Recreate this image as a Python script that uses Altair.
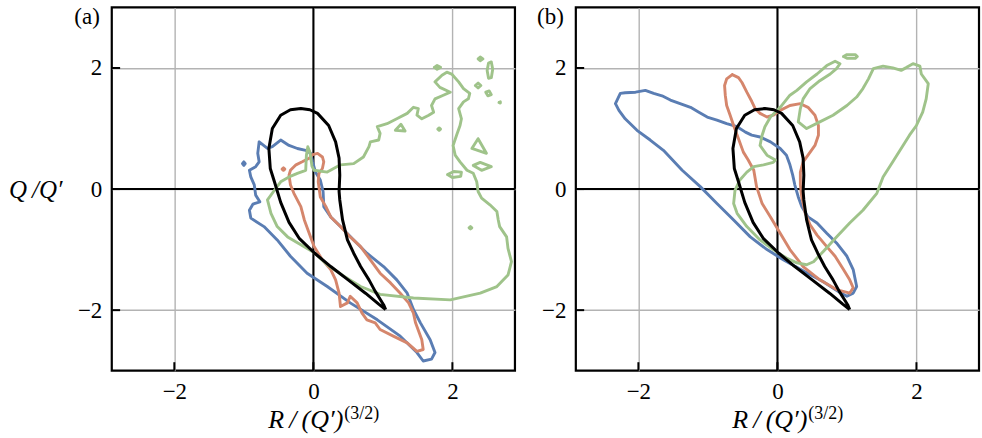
import altair as alt
import pandas as pd

# ---- axes -------------------------------------------------------------
X_DOMAIN = [-2.9, 2.9]
Y_DOMAIN = [-3.0, 3.0]
TICK_VALUES = [-2, 0, 2]

FONT = "Liberation Serif"
BLUE = "#5a7db3"
RED = "#d5866c"
GREEN = "#9fc38a"
BLACK = "#000000"

# ---- reference teardrop (same in both panels) -------------------------
REF = [(1.04, -1.99), (0.94, -1.90), (0.75, -1.72), (0.50, -1.50), (0.25, -1.28),
       (0.02, -1.06), (-0.20, -0.82), (-0.35, -0.55), (-0.47, -0.22), (-0.56, 0.12),
       (-0.62, 0.34), (-0.64, 0.67), (-0.59, 1.00), (-0.47, 1.22), (-0.33, 1.31),
       (-0.18, 1.33), (-0.05, 1.31), (0.06, 1.25), (0.22, 1.05), (0.32, 0.78),
       (0.37, 0.51), (0.38, 0.23), (0.37, -0.04), (0.38, -0.18), (0.42, -0.51),
       (0.49, -0.84), (0.58, -1.06), (0.68, -1.28), (0.80, -1.50), (0.89, -1.69),
       (1.01, -1.91)]

# ---- panel (a) --------------------------------------------------------
A_BLUE = [(-0.78, 0.78), (-0.66, 0.67), (-0.59, 0.70), (-0.47, 0.81), (-0.35, 0.72),
          (-0.23, 0.67), (-0.11, 0.64), (-0.04, 0.59), (-0.01, 0.45), (0.03, 0.28),
          (0.10, 0.15), (0.14, -0.04), (0.15, -0.29), (0.25, -0.46), (0.39, -0.62),
          (0.58, -0.84), (0.77, -1.06), (1.01, -1.28), (1.20, -1.50), (1.35, -1.72),
          (1.44, -1.99), (1.54, -2.21), (1.68, -2.49), (1.75, -2.70), (1.70, -2.81),
          (1.58, -2.84), (1.49, -2.70), (1.25, -2.43), (0.92, -2.16), (0.53, -1.88),
          (0.20, -1.61), (-0.09, -1.39), (-0.33, -1.11), (-0.52, -0.84), (-0.71, -0.62),
          (-0.90, -0.48), (-0.92, -0.35), (-0.87, -0.25), (-0.77, -0.21), (-0.83, -0.10),
          (-0.85, 0.07), (-0.90, 0.20), (-0.92, 0.31), (-0.83, 0.37), (-0.78, 0.45),
          (-0.80, 0.59)]
A_BLUE_DOT = [(-1.02, 0.42), (-1.00, 0.45), (-0.98, 0.42), (-1.00, 0.39)]

A_RED = [(-0.35, 0.23), (-0.33, 0.31), (-0.25, 0.40), (-0.16, 0.45), (-0.06, 0.51),
         (-0.01, 0.57), (0.06, 0.59), (0.13, 0.53), (0.15, 0.45), (0.13, 0.34),
         (0.08, 0.26), (0.07, 0.12), (0.10, -0.13), (0.18, -0.29), (0.25, -0.46),
         (0.39, -0.62), (0.53, -0.79), (0.68, -0.95), (0.82, -1.17), (0.96, -1.39),
         (1.11, -1.55), (1.25, -1.72), (1.37, -1.88), (1.44, -2.05), (1.47, -2.21),
         (1.56, -2.49), (1.58, -2.65), (1.49, -2.68), (1.35, -2.54), (1.15, -2.43),
         (0.96, -2.32), (0.89, -2.21), (0.77, -2.16), (0.70, -2.05), (0.63, -1.88),
         (0.53, -1.77), (0.49, -1.88), (0.39, -1.94), (0.37, -1.72), (0.32, -1.50),
         (0.25, -1.33), (0.13, -1.17), (0.01, -0.95), (-0.06, -0.73), (-0.13, -0.51),
         (-0.18, -0.29), (-0.28, -0.07), (-0.33, 0.07)]
A_RED_DOT = [(-0.45, 0.33), (-0.43, 0.35), (-0.41, 0.33), (-0.43, 0.31)]

A_GREEN = [(-0.66, -0.18), (-0.56, -0.02), (-0.47, 0.12), (-0.35, 0.20), (-0.23, 0.26),
           (-0.11, 0.31), (-0.10, 0.56), (-0.08, 0.70), (-0.05, 0.61), (-0.02, 0.38),
           (0.01, 0.31), (0.20, 0.28), (0.39, 0.40), (0.58, 0.42), (0.72, 0.53),
           (0.80, 0.70), (0.82, 0.78), (0.94, 0.81), (0.96, 0.92), (0.92, 1.03),
           (1.06, 1.08), (1.20, 1.16), (1.35, 1.25), (1.44, 1.35), (1.51, 1.33),
           (1.49, 1.22), (1.56, 1.16), (1.66, 1.22), (1.73, 1.27), (1.70, 1.38),
           (1.75, 1.49), (1.87, 1.55), (1.97, 1.60), (1.82, 1.68), (1.75, 1.77),
           (1.85, 1.88), (1.92, 1.93), (1.99, 1.90), (2.09, 1.77), (2.16, 1.66),
           (2.25, 1.58), (2.23, 1.49), (2.16, 1.44), (2.09, 1.33), (2.13, 1.16),
           (2.11, 1.05), (2.06, 0.89), (2.01, 0.72), (2.04, 0.56), (2.11, 0.45),
           (2.21, 0.31), (2.30, 0.26), (2.35, 0.12), (2.37, -0.04), (2.42, -0.15),
           (2.54, -0.26), (2.64, -0.37), (2.66, -0.51), (2.68, -0.62), (2.78, -0.79),
           (2.80, -0.98), (2.85, -1.20), (2.80, -1.42), (2.64, -1.61), (2.40, -1.72),
           (1.97, -1.83), (1.44, -1.80), (0.96, -1.74), (0.68, -1.61), (0.44, -1.44),
           (0.20, -1.25), (0.01, -1.05), (-0.18, -0.92), (-0.37, -0.79), (-0.52, -0.62),
           (-0.61, -0.40)]
A_GREEN_ISLANDS = [
    [(1.74, 2.01), (1.78, 2.04), (1.83, 2.01), (1.78, 1.98)],
    [(2.37, 2.15), (2.40, 2.18), (2.44, 2.15), (2.40, 2.12)],
    [(2.50, 1.96), (2.52, 2.08), (2.56, 2.10), (2.58, 1.98), (2.56, 1.84), (2.52, 1.83)],
    [(2.33, 1.71), (2.37, 1.75), (2.41, 1.71), (2.37, 1.67)],
    [(2.48, 1.60), (2.53, 1.62), (2.56, 1.56), (2.51, 1.54)],
    [(2.67, 1.43), (2.69, 1.44), (2.69, 1.42)],
    [(1.18, 0.97), (1.26, 1.07), (1.32, 0.96)],
    [(1.79, 0.99), (1.81, 1.01), (1.83, 0.99), (1.81, 0.97)],
    [(2.37, 0.83), (2.49, 0.59), (2.28, 0.67)],
    [(2.30, 0.39), (2.40, 0.44), (2.56, 0.37), (2.42, 0.31)],
    [(1.93, 0.24), (2.02, 0.29), (2.13, 0.28), (2.12, 0.21), (2.00, 0.19)],
    [(2.24, -0.64), (2.26, -0.62), (2.28, -0.64), (2.26, -0.66)],
]

# ---- panel (b) --------------------------------------------------------
B_BLUE = [(-2.33, 1.41), (-2.26, 1.58), (-2.19, 1.59), (-2.04, 1.60), (-1.90, 1.63),
          (-1.78, 1.58), (-1.66, 1.54), (-1.54, 1.47), (-1.40, 1.41), (-1.25, 1.35),
          (-1.13, 1.27), (-1.01, 1.19), (-0.87, 1.14), (-0.73, 1.08), (-0.58, 1.03),
          (-0.46, 0.94), (-0.37, 0.89), (-0.25, 0.86), (-0.10, 0.78), (0.04, 0.67),
          (0.13, 0.56), (0.18, 0.40), (0.22, 0.23), (0.25, 0.07), (0.30, -0.13),
          (0.35, -0.29), (0.44, -0.46), (0.57, -0.56), (0.71, -0.73), (0.85, -0.89),
          (1.00, -1.11), (1.09, -1.33), (1.14, -1.61), (1.09, -1.72), (1.00, -1.77),
          (0.90, -1.71), (0.66, -1.53), (0.37, -1.35), (0.09, -1.17), (-0.15, -1.00),
          (-0.39, -0.79), (-0.63, -0.51), (-0.87, -0.24), (-1.11, 0.04), (-1.37, 0.31),
          (-1.64, 0.64), (-1.83, 0.81), (-2.02, 0.97), (-2.19, 1.16), (-2.28, 1.30)]

B_RED = [(-0.65, 1.89), (-0.56, 1.84), (-0.51, 1.76), (-0.44, 1.60), (-0.37, 1.45),
         (-0.32, 1.33), (-0.25, 1.25), (-0.15, 1.19), (-0.06, 1.22), (0.04, 1.30),
         (0.18, 1.38), (0.33, 1.41), (0.44, 1.35), (0.54, 1.22), (0.59, 1.05),
         (0.59, 0.89), (0.54, 0.72), (0.44, 0.56), (0.37, 0.45), (0.33, 0.28),
         (0.33, 0.07), (0.35, -0.13), (0.40, -0.40), (0.47, -0.59), (0.57, -0.76),
         (0.71, -0.95), (0.83, -1.11), (0.95, -1.33), (1.04, -1.50), (1.09, -1.63),
         (1.04, -1.72), (0.85, -1.66), (0.61, -1.50), (0.37, -1.28), (0.18, -1.00),
         (0.04, -0.73), (-0.10, -0.46), (-0.22, -0.24), (-0.30, 0.04), (-0.34, 0.31),
         (-0.42, 0.48), (-0.49, 0.61), (-0.56, 0.83), (-0.63, 1.05), (-0.68, 1.22),
         (-0.73, 1.38), (-0.75, 1.55), (-0.76, 1.71), (-0.73, 1.82)]

B_GREEN = [(0.42, -1.25), (0.28, -1.22), (0.13, -1.14), (-0.06, -1.00), (-0.25, -0.84),
           (-0.44, -0.62), (-0.58, -0.40), (-0.63, -0.24), (-0.61, -0.02), (-0.54, 0.15),
           (-0.44, 0.28), (-0.34, 0.37), (-0.20, 0.40), (-0.06, 0.44), (-0.03, 0.48),
           (-0.15, 0.56), (-0.25, 0.72), (-0.22, 0.89), (-0.18, 1.03), (-0.10, 1.19),
           (0.04, 1.35), (0.18, 1.55), (0.28, 1.63), (0.42, 1.77), (0.57, 1.90),
           (0.71, 2.04), (0.83, 2.11), (0.90, 2.07), (0.85, 1.99), (0.76, 1.90),
           (0.61, 1.79), (0.47, 1.66), (0.37, 1.49), (0.33, 1.33), (0.30, 1.11),
           (0.42, 1.00), (0.61, 1.11), (0.80, 1.22), (1.00, 1.38), (1.14, 1.52),
           (1.23, 1.66), (1.31, 1.82), (1.38, 1.99), (1.52, 2.03), (1.66, 2.00),
           (1.78, 1.96), (1.86, 2.01), (1.95, 2.07), (2.05, 2.03), (2.07, 1.90),
           (2.17, 1.74), (2.14, 1.49), (2.09, 1.27), (2.00, 1.05), (1.90, 0.89),
           (1.78, 0.67), (1.66, 0.45), (1.52, 0.20), (1.43, -0.07), (1.23, -0.35),
           (1.04, -0.56), (0.85, -0.79), (0.66, -1.03), (0.52, -1.20)]
B_GREEN_ISLANDS = [
    [(0.95, 2.19), (1.00, 2.22), (1.12, 2.22), (1.15, 2.19), (1.12, 2.16), (1.00, 2.16)],
]


def build_table(panel, loops):
    rows = []
    for k, (series, pts) in enumerate(loops):
        closed = list(pts) + [pts[0]]
        for i, (r, q) in enumerate(closed):
            rows.append({"panel": panel, "series": series, "loop": f"{panel}{k}",
                         "i": i, "R": r, "Q": q})
    return pd.DataFrame(rows)


loops_a = ([("blue", A_BLUE), ("blue", A_BLUE_DOT), ("red", A_RED), ("red", A_RED_DOT),
            ("green", A_GREEN)] + [("green", g) for g in A_GREEN_ISLANDS])
loops_b = ([("blue", B_BLUE), ("red", B_RED), ("green", B_GREEN)]
           + [("green", g) for g in B_GREEN_ISLANDS])

SERIES = ["blue", "red", "green"]
COLORS = [BLUE, RED, GREEN]

xscale = alt.Scale(domain=X_DOMAIN, nice=False, zero=False)
yscale = alt.Scale(domain=Y_DOMAIN, nice=False, zero=False)
minus_expr = "datum.value < 0 ? '\u2212' + abs(datum.value) : '' + datum.value"
THIN = "\u2009"


def panel(tag, loops):
    data = build_table(tag, loops)
    ref = build_table(tag + "r", [("ref", REF)])

    def axis(pad):
        return alt.Axis(values=TICK_VALUES, grid=True, gridColor="#b3b3b3", gridWidth=1.4,
                        ticks=False, domain=False, title=None, labelFont=FONT,
                        labelFontSize=23, labelPadding=pad, labelColor="black",
                        labelExpr=minus_expr)

    axes = alt.Chart(pd.DataFrame({"R": [0.0], "Q": [0.0]})).mark_point(opacity=0).encode(
        x=alt.X("R:Q", scale=xscale, axis=axis(10)),
        y=alt.Y("Q:Q", scale=yscale, axis=axis(10)),
    )
    zero_v = alt.Chart(pd.DataFrame({"R": [0.0]})).mark_rule(color="black", strokeWidth=2).encode(
        x=alt.X("R:Q", scale=xscale))
    zero_h = alt.Chart(pd.DataFrame({"Q": [0.0]})).mark_rule(color="black", strokeWidth=2).encode(
        y=alt.Y("Q:Q", scale=yscale))

    curves = alt.Chart(data).mark_line(strokeWidth=2.9, strokeJoin="round", strokeCap="round").encode(
        x=alt.X("R:Q", scale=xscale),
        y=alt.Y("Q:Q", scale=yscale),
        color=alt.Color("series:N", scale=alt.Scale(domain=SERIES, range=COLORS), legend=None),
        detail="loop:N",
        order="i:Q",
    )
    ref_line = alt.Chart(ref).mark_line(strokeWidth=3, color=BLACK, strokeJoin="round").encode(
        x=alt.X("R:Q", scale=xscale),
        y=alt.Y("Q:Q", scale=yscale),
        order="i:Q",
    )

    xt = pd.DataFrame({"R": TICK_VALUES, "Q": [Y_DOMAIN[0]] * 3,
                       "Q2": [Y_DOMAIN[0] + 0.14] * 3})
    yt = pd.DataFrame({"Q": TICK_VALUES, "R": [X_DOMAIN[0]] * 3,
                       "R2": [X_DOMAIN[0] + 0.12] * 3})
    xticks = alt.Chart(xt).mark_rule(color="black", strokeWidth=2).encode(
        x=alt.X("R:Q", scale=xscale), y=alt.Y("Q:Q", scale=yscale), y2="Q2:Q")
    yticks = alt.Chart(yt).mark_rule(color="black", strokeWidth=2).encode(
        y=alt.Y("Q:Q", scale=yscale), x=alt.X("R:Q", scale=xscale), x2="R2:Q")

    label = alt.Chart(pd.DataFrame({"t": [f"({tag})"]})).mark_text(
        font=FONT, fontSize=23, align="right", baseline="top", color="black"
    ).encode(text="t:N", x=alt.value(-12), y=alt.value(-1))

    xtitle = alt.Chart(pd.DataFrame({"t": [f"R{THIN}/{THIN}(Q\u2032)"]})).mark_text(
        font=FONT, fontSize=26, fontStyle="italic", align="right", baseline="alphabetic",
        color="black"
    ).encode(text="t:N", x=alt.value(232), y=alt.value(421))
    xsup = alt.Chart(pd.DataFrame({"t": ["(3/2)"]})).mark_text(
        font=FONT, fontSize=18, align="left", baseline="alphabetic", color="black"
    ).encode(text="t:N", x=alt.value(233), y=alt.value(412))

    layers = [axes, zero_v, zero_h, curves, ref_line, xticks, yticks, label, xtitle, xsup]
    if tag == "a":
        ytitle = alt.Chart(pd.DataFrame({"t": [f"Q{THIN}/Q\u2032"]})).mark_text(
            font=FONT, fontSize=25, fontStyle="italic", align="left", baseline="middle",
            color="black"
        ).encode(text="t:N", x=alt.value(-103), y=alt.value(183))
        layers.append(ytitle)

    return alt.layer(*layers).properties(width=404, height=364)


chart = alt.hconcat(
    panel("a", loops_a),
    panel("b", loops_b),
    spacing=61,
    bounds="flush",
).configure_view(stroke="black", strokeWidth=2.2).properties(
    padding={"left": 7, "top": 4, "right": 0, "bottom": 0},
    background="white",
)

chart.save("out.html", embed_options={"renderer": "svg", "actions": False})
